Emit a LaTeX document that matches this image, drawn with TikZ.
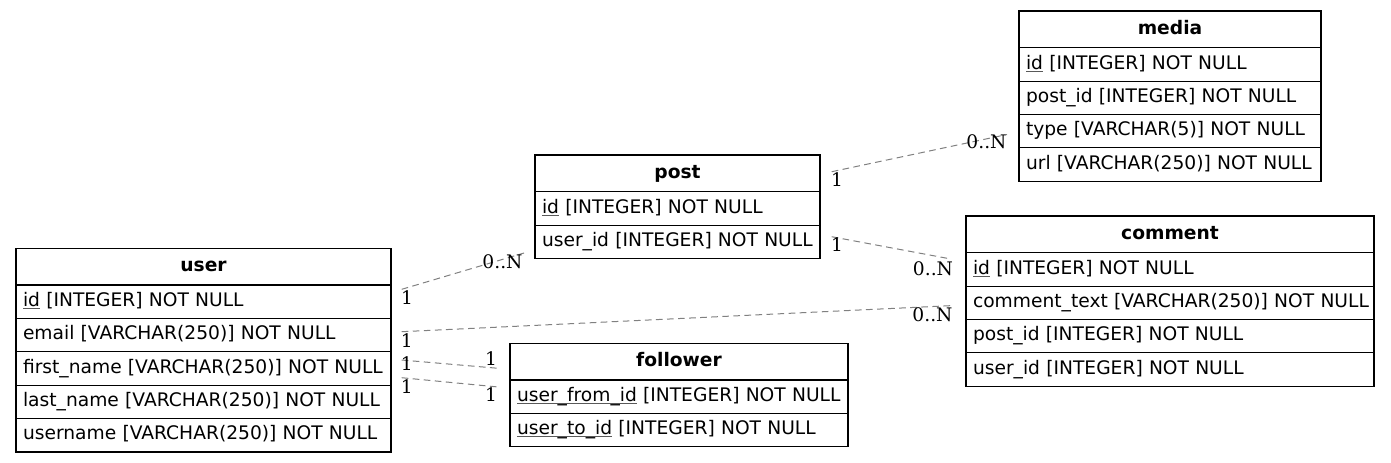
\documentclass[tikz,border=0pt]{standalone}
\usepackage{fontspec}
\setmainfont{DejaVu Sans}
\newfontfamily\cardfont{DejaVu Serif}
\usepackage{tikz}
\usetikzlibrary{positioning}
\usepackage{xcolor}

\newcommand{\erfont}{\fontsize{14pt}{17pt}\selectfont}
% khoa chinh: gach chan mong
\newcommand{\pkey}[1]{\setbox0\hbox{#1}\rlap{\color{black!65}\rule[-2pt]{\wd0}{0.7pt}}\box0\relax}
% mot truong khong ngat dong
\newcommand{\fld}[1]{\mbox{#1}}

\begin{document}
\begin{tikzpicture}[
    x=0.75pt, y=-0.75pt,
    node distance=0pt,
    % o tieu de va o truong cua bang
    table_head/.style={draw, line width=0.8pt, inner sep=0pt, outer sep=0pt, font=\erfont\bfseries, align=center, text width={#1*0.75pt}, minimum height=27.5pt, text height=10.5pt, text depth=3.5pt},
    table_row/.style={draw, line width=0.8pt, inner xsep=5.25pt, inner ysep=0pt, outer sep=0pt, font=\erfont, align=left, text width={#1*0.75pt-10.5pt}, minimum height=25.05pt, text height=10.5pt, text depth=3.5pt},
    % duong noi va nhan so luong
    edge_line/.style={draw=black!50, line width=0.75pt, dash pattern=on 5pt off 3.3pt},
    card_label/.style={font=\erfont\cardfont, inner sep=0pt}
]
    \useasboundingbox (0,0) rectangle (1391,462);

    % --- 1. BANG USER ---
    \node[table_head=375, anchor=north west] (user_h) at (16,248.3) {user};
    \node[table_row=375, below=of user_h] (user_id) {\fld{\pkey{id} [INTEGER] NOT NULL}};
    \node[table_row=375, below=of user_id] (user_email) {\fld{email [VARCHAR(250)] NOT NULL}};
    \node[table_row=375, below=of user_email] (user_first) {\fld{first\_name [VARCHAR(250)] NOT NULL}};
    \node[table_row=375, below=of user_first] (user_last) {\fld{last\_name [VARCHAR(250)] NOT NULL}};
    \node[table_row=375, below=of user_last] (user_name) {\fld{username [VARCHAR(250)] NOT NULL}};

    % --- 2. BANG POST ---
    \node[table_head=285, anchor=north west] (post_h) at (535,155) {post};
    \node[table_row=285, below=of post_h] (post_id) {\fld{\pkey{id} [INTEGER] NOT NULL}};
    \node[table_row=285, below=of post_id] (post_user) {\fld{user\_id [INTEGER] NOT NULL}};

    % --- 3. BANG MEDIA ---
    \node[table_head=302, anchor=north west] (media_h) at (1019,11) {media};
    \node[table_row=302, below=of media_h] (media_id) {\fld{\pkey{id} [INTEGER] NOT NULL}};
    \node[table_row=302, below=of media_id] (media_post) {\fld{post\_id [INTEGER] NOT NULL}};
    \node[table_row=302, below=of media_post] (media_type) {\fld{type [VARCHAR(5)] NOT NULL}};
    \node[table_row=302, below=of media_type] (media_url) {\fld{url [VARCHAR(250)] NOT NULL}};

    % --- 4. BANG COMMENT ---
    \node[table_head=408, anchor=north west] (comment_h) at (966,216) {comment};
    \node[table_row=408, below=of comment_h] (comment_id) {\fld{\pkey{id} [INTEGER] NOT NULL}};
    \node[table_row=408, below=of comment_id] (comment_text) {\fld{comment\_text [VARCHAR(250)] NOT NULL}};
    \node[table_row=408, below=of comment_text] (comment_post) {\fld{post\_id [INTEGER] NOT NULL}};
    \node[table_row=408, below=of comment_post] (comment_user) {\fld{user\_id [INTEGER] NOT NULL}};

    % --- 5. BANG FOLLOWER ---
    \node[table_head=338, anchor=north west] (follower_h) at (510,343.3) {follower};
    \node[table_row=338, below=of follower_h] (follower_from) {\fld{\pkey{user\_from\_id} [INTEGER] NOT NULL}};
    \node[table_row=338, below=of follower_from] (follower_to) {\fld{\pkey{user\_to\_id} [INTEGER] NOT NULL}};

    % --- 6. DAU MUT CAC QUAN HE ---
    \coordinate (r1a) at (401.7,289.3);  \coordinate (r1b) at (524,253);
    \coordinate (r2a) at (401.7,331.7);  \coordinate (r2b) at (954,305.5);
    \coordinate (r3a) at (401.7,360);    \coordinate (r3b) at (498.3,368.3);
    \coordinate (r4a) at (401.7,377.7);  \coordinate (r4b) at (498.3,387);
    \coordinate (r5a) at (831.7,171.7);  \coordinate (r5b) at (1007,134.5);
    \coordinate (r6a) at (831.7,236.7);  \coordinate (r6b) at (951,259);

    \foreach \i in {1,...,6} {
        \draw[edge_line] (r\i a) -- (r\i b);
    }

    % Nhan so luong o hai dau
    \node[card_label] (c1a) at (407,297.5) {1};
    \node[card_label] (c1b) at (502.5,261.5) {0..N};
    \node[card_label] (c2a) at (406.7,340.8) {1};
    \node[card_label] (c2b) at (932.5,315) {0..N};
    \node[card_label] (c3a) at (406.7,364) {1};
    \node[card_label] (c3b) at (491,358.3) {1};
    \node[card_label] (c4a) at (406.7,386.3) {1};
    \node[card_label] (c4b) at (491,394.5) {1};
    \node[card_label] (c5a) at (837,180) {1};
    \node[card_label] (c5b) at (986.5,141.5) {0..N};
    \node[card_label] (c6a) at (837,244.5) {1};
    \node[card_label] (c6b) at (933,268.5) {0..N};

\end{tikzpicture}
\end{document}
